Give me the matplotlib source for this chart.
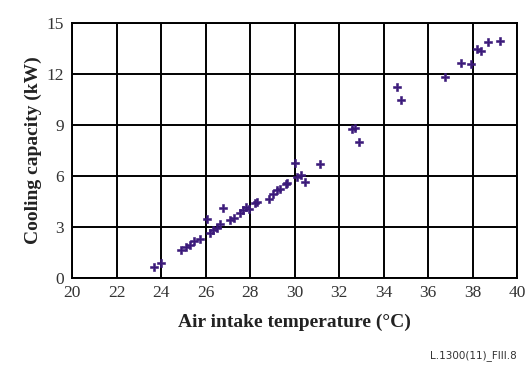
"""Cooling capacity against air intake temperature, scatter on a square grid."""

import matplotlib.pyplot as plt

# measured operating points
intake_temp = [
    23.7, 24.0, 24.9, 25.1, 25.3, 25.5, 25.75, 26.05, 26.2, 26.35,
    26.5, 26.65, 26.8, 27.1, 27.3, 27.55, 27.7, 27.8, 27.95, 28.2,
    28.3, 28.85, 29.05, 29.2, 29.35, 29.6, 29.65, 30.0, 30.1, 30.3,
    30.45, 31.15, 32.6, 32.7, 32.9, 34.6, 34.8, 36.75, 37.5, 37.95,
    38.2, 38.4, 38.7, 39.25,
]
cooling_kw = [
    0.65, 0.88, 1.65, 1.8, 1.95, 2.15, 2.3, 3.45, 2.65, 2.85,
    2.95, 3.15, 4.1, 3.4, 3.55, 3.8, 4.0, 4.2, 4.05, 4.4,
    4.45, 4.65, 4.95, 5.15, 5.25, 5.5, 5.6, 6.75, 5.95, 6.05,
    5.65, 6.7, 8.75, 8.85, 8.0, 11.25, 10.45, 11.8, 12.65, 12.6,
    13.45, 13.35, 13.85, 13.95,
]

x_ticks = list(range(20, 41, 2))
y_ticks = list(range(0, 16, 3))

serif = ["Liberation Serif", "DejaVu Serif"]

fig = plt.figure(figsize=(5.26, 3.67), dpi=100)
ax = fig.add_axes([0.137, 0.2425, 0.846, 0.695])

ax.scatter(intake_temp, cooling_kw, marker="P", s=34, color="#3b1a7a",
           edgecolors="#3b1a7a", linewidths=0.4, zorder=3)

ax.set_xlim(20, 40)
ax.set_ylim(0, 15)
ax.set_xticks(x_ticks)
ax.set_yticks(y_ticks)
ax.grid(True, color="black", linewidth=1.4)
ax.set_axisbelow(True)
for s in ax.spines.values():
    s.set_linewidth(1.4)
ax.tick_params(axis="x", length=0, pad=5, labelsize=12.5)
ax.tick_params(axis="y", length=0, pad=6, labelsize=12.5)
for lab in ax.get_xticklabels() + ax.get_yticklabels():
    lab.set_family(serif)
    lab.set_color("#333333")

ax.set_xlabel("Air intake temperature (°C)", family=serif, fontsize=14,
              fontweight="bold", color="#222222", labelpad=9)
ax.set_ylabel("Cooling capacity (kW)", family=serif, fontsize=14,
              fontweight="bold", color="#222222", labelpad=3)

fig.text(0.983, 0.032, "L.1300(11)_FIII.8", ha="right", va="center",
         fontsize=7.5, color="#333333", family="DejaVu Sans")

fig.savefig("out.png", dpi=100)
